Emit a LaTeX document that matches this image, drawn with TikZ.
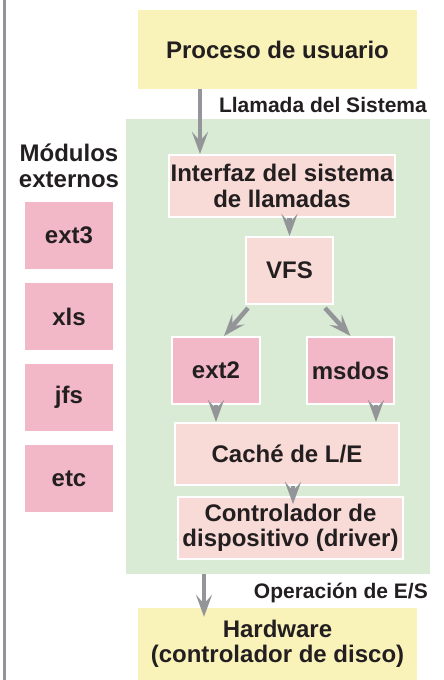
\documentclass[tikz,border=0pt]{standalone}
\usepackage{fontspec}
\setmainfont{Liberation Sans}
\usepackage{tikz}
\usetikzlibrary{arrows.meta,positioning}

\definecolor{gris}{HTML}{939598}
\definecolor{tinta}{HTML}{231F20}
\definecolor{amarillo}{HTML}{F9F2B9}
\definecolor{verde}{HTML}{D9EBD4}
\definecolor{rosaclaro}{HTML}{F8DAD6}
\definecolor{rosa}{HTML}{F2B8C8}

\begin{document}
\begin{tikzpicture}[x = 1pt, y = -1pt,
  caja/.style = {inner sep = 0pt, align = center, text = tinta,
                 font = \bfseries\fontsize{24}{25.5}\selectfont},
  amarilla/.style = {caja, fill = amarillo},
  capa/.style = {caja, fill = rosaclaro, draw = white, line width = 2pt},
  modulo/.style = {caja, fill = rosa},
  fs/.style = {modulo, draw = white, line width = 2pt},
  flecha/.style = {-{Stealth[length = 22pt, width = 16pt, inset = 9pt]},
                   draw = gris, line width = 4.5pt},
  rotulo/.style = {inner sep = 0pt, text = tinta,
                   font = \bfseries\fontsize{21}{23}\selectfont}]
\useasboundingbox (0,0) rectangle (444,680);

% margin rule on the left
\coordinate (regla_a) at (4,0);
\coordinate (regla_b) at (4,680);
\draw[gris, line width = 3pt] (regla_a) -- (regla_b);

% kernel area
\node[fill = verde, minimum width = 304pt, minimum height = 455pt] (kernel) at (278,346.5) {};

\node[amarilla, minimum width = 279pt, minimum height = 79pt] (proceso) at (277.5,49.5) {Proceso de usuario};
\node[rotulo, anchor = east] (llamada) at (427,105) {Llamada del Sistema};

\node[capa, minimum width = 226pt, minimum height = 62pt] (interfaz) at (282,186) {Interfaz del sistema\\de llamadas};
\node[capa, minimum width = 87pt, minimum height = 67pt] (vfs) at (289.5,270.5) {VFS};
\node[fs, minimum width = 88pt, minimum height = 67pt] (ext2) at (216,370.5) {ext2};
\node[fs, minimum width = 87pt, minimum height = 67pt] (msdos) at (350.5,370.5) {msdos};
\node[capa, minimum width = 224pt, minimum height = 62pt] (cache) at (287,454) {Caché de L/E};
\node[capa, minimum width = 225pt, minimum height = 62pt] (driver) at (290.5,528) {Controlador de\\dispositivo (driver)};

\node[rotulo, anchor = east] (operacion) at (428,593) {Operación de E/S};
\node[amarilla, minimum width = 279pt, minimum height = 72pt] (hardware) at (277.5,644) {Hardware\\(controlador de disco)};

% external modules
\node[caja] (externos) at (69,166) {Módulos\\externos};
\foreach \nombre [count = \i from 0] in {ext3, xls, jfs, etc}
  \node[modulo, minimum width = 88pt, minimum height = 67pt] (mod\i) at (69,235.5 + 81*\i) {\nombre};

% arrows
\draw[flecha] ([xshift = -77.5pt]proceso.south) -- ([xshift = -77.5pt]proceso.south |- interfaz.north);
\draw[flecha] (interfaz.south -| vfs.north) -- (vfs.north);
\draw[flecha] ([xshift = 3pt, yshift = -3pt]vfs.south west) -- ([xshift = 8pt]ext2.north);
\draw[flecha] ([xshift = -9pt, yshift = -3pt]vfs.south east) -- (msdos.north);
\draw[flecha] (ext2.south) -- (ext2.south |- cache.north);
\draw[flecha] ([xshift = 25.5pt]msdos.south) -- ([xshift = 25.5pt]msdos.south |- cache.north);
\draw[flecha] ([xshift = 6pt]cache.south) -- ([xshift = 6pt, yshift = -8pt]cache.south |- driver.north);
\draw[flecha] ([xshift = -74pt]kernel.south) -- ([xshift = -74pt, yshift = -9pt]kernel.south |- hardware.north);
\end{tikzpicture}
\end{document}
